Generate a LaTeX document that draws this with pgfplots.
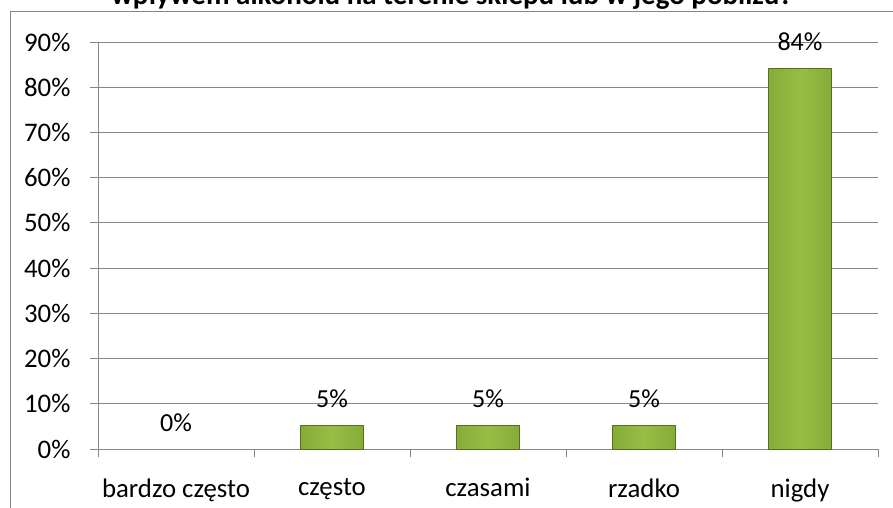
\documentclass[border=0pt]{standalone}
\usepackage{pgfplots}
\pgfplotsset{compat=1.18}
\usepackage{fontspec}
\setmainfont{Carlito}
\definecolor{gridgray}{HTML}{868686}
\definecolor{barmid}{HTML}{98BE45}
\definecolor{baredge}{HTML}{86AB38}
\definecolor{barline}{HTML}{55701F}
\begin{document}
\begin{tikzpicture}[x=1pt,y=1pt]
\path[use as bounding box] (0,0) rectangle (893,507);
\clip (0,0) rectangle (893,507);
\draw[gridgray, line width=1pt] (10,-20) -- (10,495) -- (920,495);
\node[font=\fontsize{29}{34}\selectfont\bfseries, anchor=base, inner sep=0pt] at (452,502) {wpływem alkoholu na terenie sklepu lub w jego pobliżu?};
\begin{axis}[
  at={(98pt,58pt)}, anchor=south west,
  width=780pt, height=407pt, scale only axis,
  xmin=-0.5, xmax=4.5, ymin=0, ymax=90,
  axis x line=bottom, axis y line=left,
  axis line style={gridgray, line width=1pt, -},
  tick align=outside, major tick length=8pt,
  tick style={gridgray, line width=1pt},
  ytick={0,10,...,90},
  yticklabel={\pgfmathprintnumber{\tick}\%},
  ymajorgrids, grid style={gridgray, line width=1pt},
  xtick={-0.5,0.5,1.5,2.5,3.5,4.5},
  xticklabels={bardzo często,często,czasami,rzadko,nigdy,{}},
  xticklabel style={xshift=78pt, yshift=-18pt},
  yticklabel style={xshift=-16pt},
  ticklabel style={font=\fontsize{26.8}{32}\selectfont},
  /pgf/number format/assume math mode=true,
  ybar, bar width=63pt,
  nodes near coords={\pgfmathprintnumber[fixed,precision=0]{\pgfplotspointmeta}\%},
  every node near coord/.append style={font=\fontsize{26}{31}\selectfont, anchor=center, yshift=26pt, text=black},
  barstyle/.style={bar shift=0pt, draw=barline, line width=0.6pt, left color=baredge, right color=baredge, middle color=barmid},
]
\addplot[bar shift=0pt, draw=none, fill=none] coordinates {(0,0)};
\addplot[barstyle] coordinates {(1,5.26)};
\addplot[barstyle] coordinates {(2,5.26)};
\addplot[barstyle] coordinates {(3,5.26)};
\addplot[barstyle] coordinates {(4,84.21)};
\end{axis}
\end{tikzpicture}
\end{document}
